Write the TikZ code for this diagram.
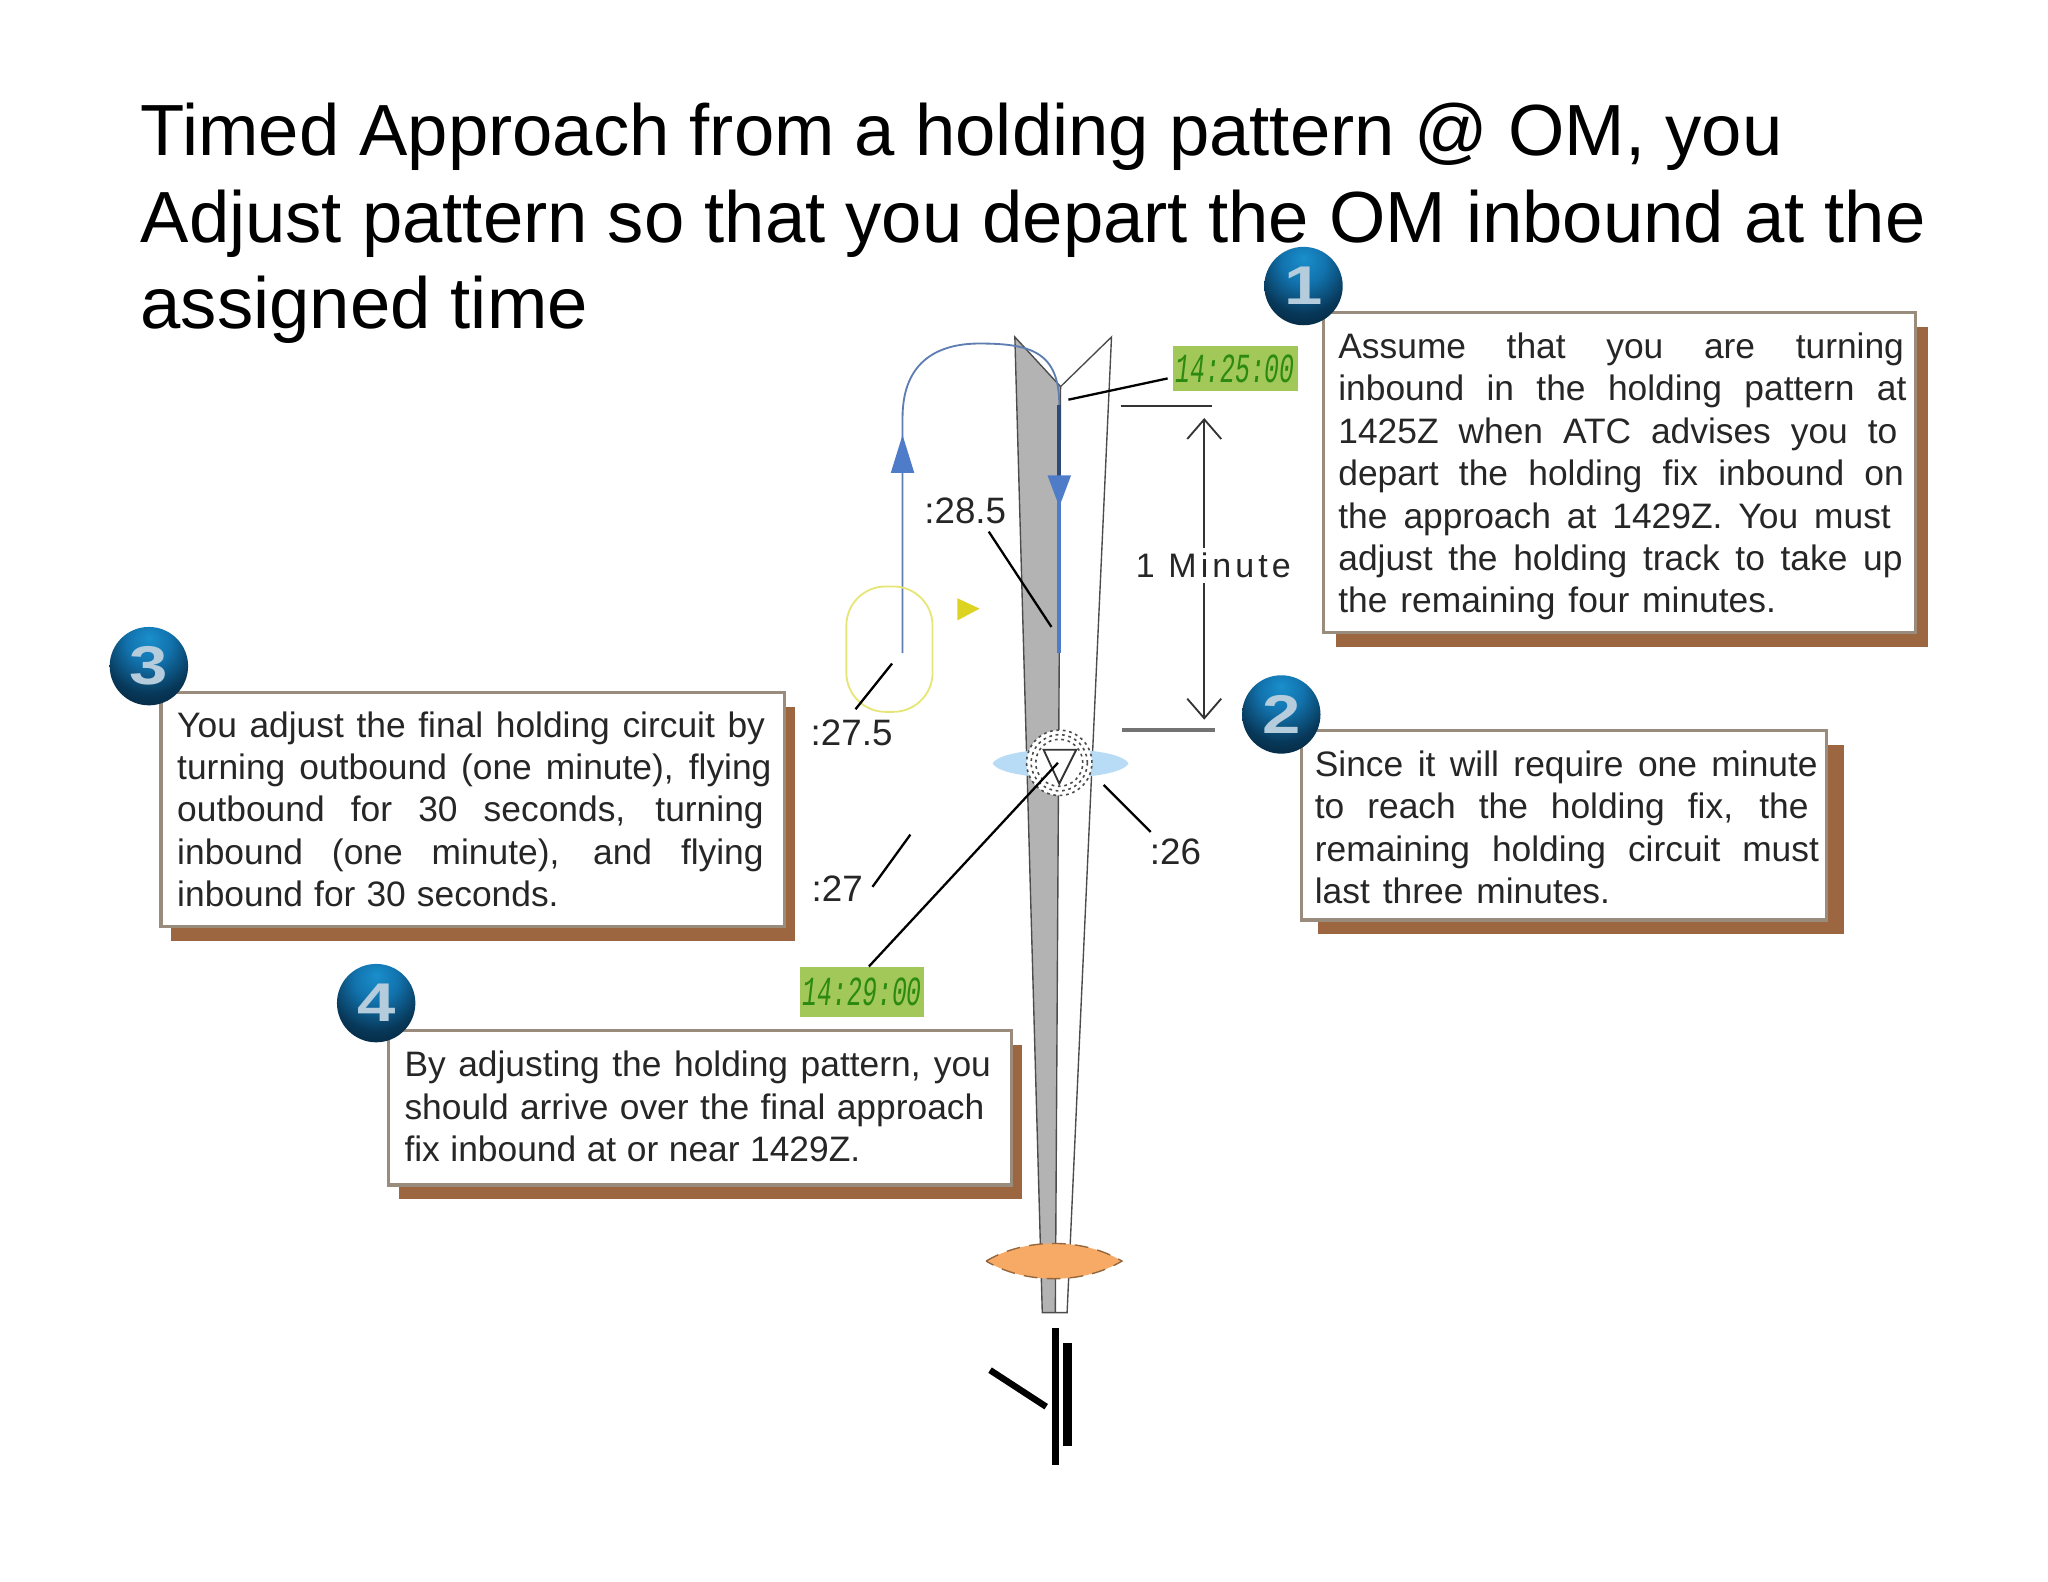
\documentclass[tikz,border=0pt]{standalone}
\usepackage{fontspec}
\setmainfont{Liberation Sans}
\newfontfamily\clockfont{Liberation Mono}
\newfontfamily\widefont[LetterSpace=12]{Liberation Sans}
\usetikzlibrary{arrows.meta,shadows,positioning}

\definecolor{shadowbrown}{HTML}{9C6640}
\definecolor{boxedge}{HTML}{9A8C7C}
\definecolor{stripgrey}{HTML}{B3B3B3}
\definecolor{trackblue}{HTML}{4F7CC8}
\definecolor{clockgreen}{HTML}{A2C85A}
\definecolor{clocktext}{HTML}{2C8A10}
\definecolor{fixblue}{HTML}{B8DCF5}
\definecolor{mapt}{HTML}{F6AA66}
\definecolor{holdyellow}{HTML}{E6E678}
\definecolor{bulletdigit}{HTML}{B4CCDC}

\pgfdeclareradialshading{bullet}{\pgfpoint{0bp}{18bp}}{%
  rgb(0bp)=(.10,.56,.80);
  rgb(14bp)=(.07,.45,.68);
  rgb(30bp)=(.03,.22,.35);
  rgb(46bp)=(.01,.11,.18);
  rgb(100bp)=(.01,.09,.15)}

\newlength\pxunit
\setlength\pxunit{0.01cm}
\newcommand{\fitline}[2]{\makebox[#1\pxunit][s]{#2}}
\newcommand{\clocktime}[1]{\scalebox{0.6}[1]{#1}}
\newcommand{\balldigit}[1]{\scalebox{1.2}[0.95]{#1}}

\begin{document}
\begin{tikzpicture}[x=0.01cm,y=-0.01cm,
infobox/.style={anchor=north west,draw=boxedge,line width=0.7pt,fill=white,inner sep=0pt,
  copy shadow={fill=shadowbrown,draw=none,shadow xshift=#1,shadow yshift=-0.11cm}},
infobox/.default=0.1cm,
boxtext/.style={anchor=north west,inner sep=0pt,align=left,text=black!85,font=\fontsize{7.7}{9.24}\selectfont},
bullet node/.style={circle,minimum size=0.6cm,inner sep=0pt,shading=bullet,text=bulletdigit,
  font=\fontsize{12.5}{12.5}\selectfont\bfseries},
time label/.style={inner sep=0pt,text=black!85,font=\fontsize{8}{9}\selectfont},
clock node/.style={anchor=north west,fill=clockgreen,inner sep=0pt,text=clocktext,
  font=\clockfont\itshape\fontsize{9}{9}\selectfont},
fix ring/.style={circle,draw=black!70,dash pattern=on 0.6pt off 0.8pt,line width=0.35pt,inner sep=0pt},
leader/.style={black,line width=0.5pt},
track/.style={fill=trackblue,draw=none}]

\useasboundingbox (0,0) rectangle (1568,1211);

\node[anchor=north west,inner sep=0pt,align=left,font=\fontsize{15.78}{18.9}\selectfont] (title) at (107,78)
{Timed Approach from a holding pattern @ OM, you\\
Adjust pattern so that you depart the OM inbound at the\\
assigned time};

% approach course
\fill[stripgrey] (777,258) -- (812,296) -- (811,500) -- (808,1005) -- (798,1005) -- cycle;
\draw[black!70,line width=0.3pt] (777,258) -- (812,296) -- (851,258) -- (817,1005) -- (798,1005) -- cycle;
\draw[black!70,line width=0.3pt] (812,296) -- (811,500) -- (808,1005);

% holding pattern
\coordinate (outbound) at (691,500);
\coordinate (abeam) at (691,320);
\coordinate (turn) at (811,310);
\coordinate (inbound) at (811,500);
\coordinate (headdown) at (811,370);
\draw[trackblue!70!gray,line width=0.4pt] (outbound) -- (abeam)
  .. controls (691,275) and (720,263) .. (750,263)
  .. controls (790,263) and (811,270) .. (turn);
\draw[trackblue,line width=0.8pt] (headdown) -- (inbound);
\draw[trackblue!60!black,line width=0.9pt] (turn) -- (headdown);
\fill[track] (691,333) -- (700,362) -- (682,362) -- cycle;
\fill[track] (811,388) -- (820,364) -- (802,364) -- cycle;
\draw[holdyellow,line width=0.4pt,rounded corners=0.3cm] (648,449) rectangle (714,545);
\fill[yellow!85!black] (733,458) -- (750,466) -- (733,475) -- cycle;

% fixes
\fill[fixblue] (760,584.5) .. controls (768,570) and (856,570) .. (864,584.5)
  .. controls (856,599) and (768,599) .. cycle;
\node[fix ring,fill=white,minimum size=0.5cm] (fix) at (811,584) {};
\node[fix ring,minimum size=0.43cm] (fixmiddle) at (811,584) {};
\node[fix ring,minimum size=0.36cm] (fixinner) at (811,584) {};
\draw[black!80,line width=0.4pt] (799,574) -- (824,574) -- (811,600) -- cycle;
\draw[mapt!60!black,densely dashed,fill=mapt,line width=0.3pt] (755,965.5) .. controls (785,947.5) and (829,947.5) .. (859,965.5)
  .. controls (829,983.5) and (785,983.5) .. cycle;

% approach lights
\fill[black] (805.5,1017) rectangle (811,1122);
\fill[black] (814,1028) rectangle (821,1107);
\draw[black,line width=1.4pt] (758,1049) -- (801,1077);

% clocks
\node[clock node,minimum width=0.96cm,minimum height=0.35cm] (clock1) at (897,264) {\clocktime{14:25:00}};
\node[clock node,minimum width=0.95cm,minimum height=0.38cm] (clock2) at (612,740) {\clocktime{14:29:00}};
\coordinate (clock1end) at (818,306);
\coordinate (fixcentre) at (810,584);
\draw[leader] (clock1.west) ++(-3,7.5) -- (clock1end);
\draw[leader] (clock2.north) ++(5,0) -- (fixcentre);

% one minute
\coordinate (bar1a) at (858,311);
\coordinate (bar1b) at (928,311);
\coordinate (bar2a) at (859,559);
\coordinate (bar2b) at (930,559);
\coordinate (arrowtop) at (922,320);
\coordinate (arrowbot) at (922,551);
\draw[black!80,line width=0.5pt] (bar1a) -- (bar1b);
\draw[black!55,line width=0.8pt] (bar2a) -- (bar2b);
\draw[{Straight Barb[length=1.5mm,width=2.6mm]}-{Straight Barb[length=1.5mm,width=2.6mm]},black!80,line width=0.4pt] (arrowtop) -- (arrowbot);
\node[fill=white,inner xsep=0pt,inner ysep=1pt,text=black!85,font=\widefont\fontsize{7.4}{9}\selectfont] (minute) at (929,433) {1 Minute};

% time labels
\node[time label] (t285) at (739,391) {:28.5};
\node[time label] (t275) at (652,561) {:27.5};
\node[time label] (t27) at (641,680) {:27};
\node[time label] (t26) at (900,652) {:26};
\coordinate (t285end) at (805,480);
\coordinate (t285start) at (757,407);
\coordinate (t275end) at (683,508);
\coordinate (t275start) at (655,543);
\coordinate (t27a) at (668,679);
\coordinate (t27b) at (697,639);
\coordinate (t26a) at (845,601);
\coordinate (t26b) at (881,637);
\draw[leader] (t285start) -- (t285end);
\draw[leader] (t275start) -- (t275end);
\draw[leader] (t27a) -- (t27b);
\draw[leader] (t26a) -- (t26b);

% info boxes
\node[infobox,minimum width=4.53cm,minimum height=2.45cm] (box1) at (1012,238) {};
\node[infobox=0.13cm,minimum width=4.02cm,minimum height=1.45cm] (box2) at (995,558) {};
\node[infobox=0.08cm,minimum width=4.77cm,minimum height=1.79cm] (box3) at (122,529) {};
\node[infobox=0.08cm,minimum width=4.77cm,minimum height=1.18cm] (box4) at (296,788) {};

\node[boxtext] (text1) at (1024,254) {\fitline{433}{Assume that you are turning}\\
\fitline{435}{inbound in the holding pattern at}\\
\fitline{428}{1425Z when ATC advises you to}\\
\fitline{433}{depart the holding fix inbound on}\\
\fitline{423}{the approach at 1429Z. You must}\\
\fitline{432}{adjust the holding track to take up}\\
\fitline{335}{the remaining four minutes.}};
\node[boxtext] (text2) at (1006,574) {\fitline{385}{Since it will require one minute}\\
\fitline{378}{to reach the holding fix, the}\\
\fitline{386}{remaining holding circuit must}\\
\fitline{226}{last three minutes.}};
\node[boxtext] (text3) at (135,544) {\fitline{450}{You adjust the final holding circuit by}\\
\fitline{455}{turning outbound (one minute), flying}\\
\fitline{449}{outbound for 30 seconds, turning}\\
\fitline{449}{inbound (one minute), and flying}\\
\fitline{292}{inbound for 30 seconds.}};
\node[boxtext] (text4) at (309,804) {\fitline{449}{By adjusting the holding pattern, you}\\
\fitline{444}{should arrive over the final approach}\\
\fitline{349}{fix inbound at or near 1429Z.}};

\node[bullet node] (ball1) at (998,219) {\balldigit{1}};
\node[bullet node] (ball2) at (981,547) {\balldigit{2}};
\node[bullet node] (ball3) at (114,510) {\balldigit{3}};
\node[bullet node] (ball4) at (288,768) {\balldigit{4}};

\end{tikzpicture}
\end{document}
